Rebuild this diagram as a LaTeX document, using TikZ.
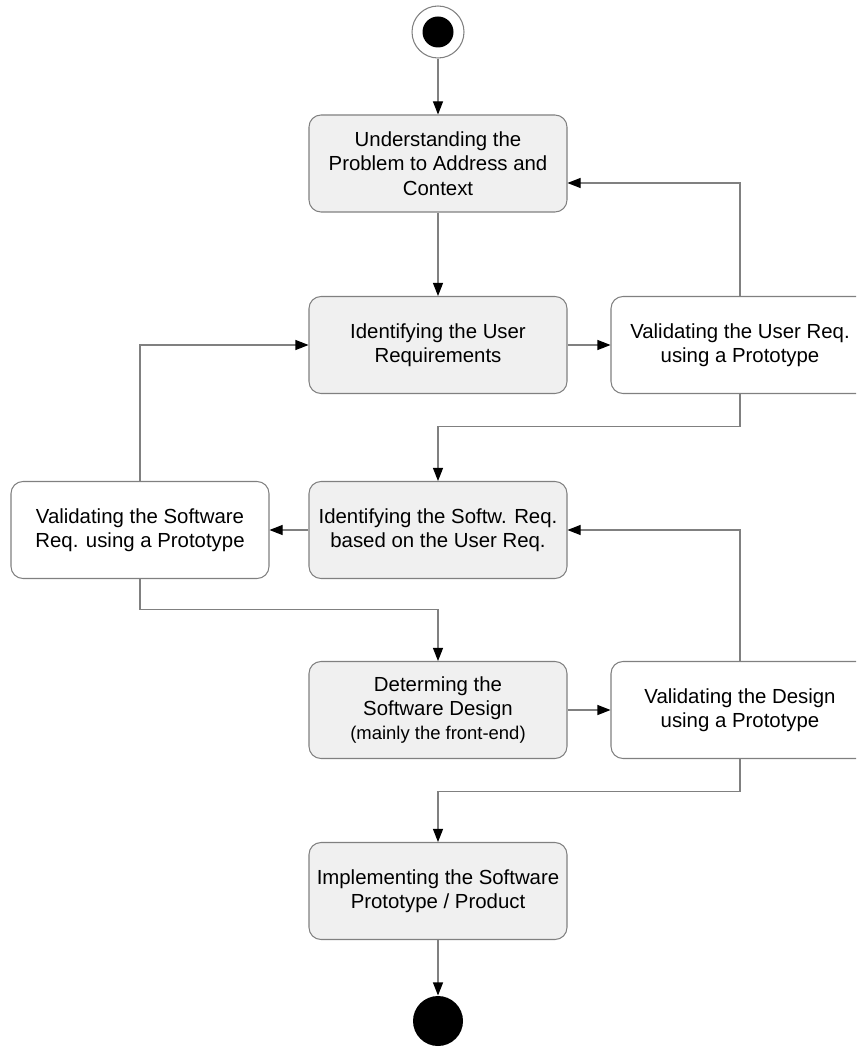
\documentclass[tikz,border=0pt]{standalone}
\usepackage{fontspec}
\setmainfont{Liberation Sans}
\usetikzlibrary{arrows.meta}

\begin{document}
\begin{tikzpicture}[line width=0.6pt,
    activity/.style={draw=gray, rounded corners=0.24cm, minimum width=5.16cm, minimum height=1.94cm,
      align=center, font=\fontsize{11.6}{13.9}\selectfont},
    work/.style={activity, fill=gray!12},
    check/.style={activity, fill=white},
    flow/.style={draw=gray, -{Triangle[length=2.6mm, width=2mm, black]}}]
  \clip (0,0) rectangle (17.12,-20.96);
  % start and end
  \node[circle, draw=gray, fill=white, minimum size=1.04cm, inner sep=0pt] (start) at (8.76,-0.64) {};
  \fill (start) circle (0.31cm);
  \node[circle, fill=black, minimum size=1.0cm, inner sep=0pt] (stop) at (8.76,-20.42) {};
  % main column
  \foreach \n/\y/\t in {understand/-3.27/{Understanding the\\Problem to Address and\\Context},
                        userreq/-6.9/{Identifying the User\\Requirements},
                        softreq/-10.6/{Identifying the Softw. Req.\\based on the User Req.},
                        design/-14.2/{Determing the\\Software Design\\{\fontsize{10.5}{12}\selectfont(mainly the front-end)}},
                        implement/-17.82/{Implementing the Software\\Prototype / Product}} {
    \node[work] (\n) at (8.76,\y) {\t};
  }
  % validations
  \node[check] (validuser) at (14.8,-6.9) {Validating the User Req.\\using a Prototype};
  \node[check] (validsoft) at (2.8,-10.6) {Validating the Software\\Req. using a Prototype};
  \node[check] (validdesign) at (14.8,-14.2) {Validating the Design\\using a Prototype};

  \draw[flow] (start) -- (understand);
  \draw[flow] (understand) -- (userreq);
  \draw[flow] (userreq) -- (validuser);
  \draw[flow] (validuser.north) |- ([yshift=-0.39cm]understand.east);
  \draw[flow] (validuser.south) -- ++(0,-0.64) -| (softreq.north);
  \draw[flow] (softreq) -- (validsoft);
  \draw[flow] (validsoft.north) |- (userreq.west);
  \draw[flow] (validsoft.south) -- ++(0,-0.6) -| (design.north);
  \draw[flow] (design) -- (validdesign);
  \draw[flow] (validdesign.north) |- (softreq.east);
  \draw[flow] (validdesign.south) -- ++(0,-0.64) -| (implement.north);
  \draw[flow] (implement) -- (stop);
\end{tikzpicture}
\end{document}
